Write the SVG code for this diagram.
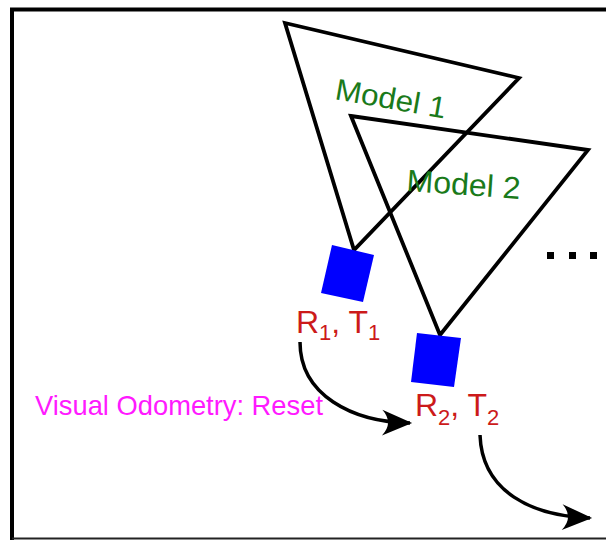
<svg xmlns="http://www.w3.org/2000/svg" width="606" height="540" viewBox="0 0 606 540">
<style>
.tri{fill:none;stroke:#000;stroke-width:3.8;stroke-linejoin:miter}
.cam{fill:#0000ff}
.model{font-family:"Liberation Sans",Arial,sans-serif;fill:#1a7a1a}
.rt{font-family:"Liberation Sans",Arial,sans-serif;fill:#cc1a1a;font-size:32px}
.sub{font-size:22px}
.vo{font-family:"Liberation Sans",Arial,sans-serif;fill:#ff1aff;font-size:28px}
.arr{fill:none;stroke:#000;stroke-width:3.5}
</style>
<defs>
<marker id="ah" markerUnits="userSpaceOnUse" markerWidth="40" markerHeight="30" viewBox="-28 -14 32 28" refX="0" refY="0" orient="auto">
<path d="M2,0 L-26,-12 Q-15,0 -26,12 Z" fill="#000"/>
</marker>
</defs>
<rect x="0" y="0" width="606" height="540" fill="#fff"/>
<g id="frame">
<path d="M12,540 L12,9.5 L606,9.5" fill="none" stroke="#000" stroke-width="4"/>
<line x1="12" y1="538.5" x2="606" y2="538.5" stroke="#222" stroke-width="2"/>
</g>
<g id="model1">
<polygon class="tri" points="285,23 519,78 354,250"/>
<text class="model" font-size="30" transform="translate(334,99) rotate(10)" textLength="112" lengthAdjust="spacingAndGlyphs">Model 1</text>
</g>
<g id="model2">
<polygon class="tri" points="351,116 588,150 440,335"/>
<text class="model" font-size="31" transform="translate(406,191) rotate(4)" textLength="114" lengthAdjust="spacingAndGlyphs">Model 2</text>
</g>
<g id="camera1">
<polygon class="cam" points="332,245 374,255 363,302 321,293"/>
<text class="rt" x="296" y="333">R<tspan class="sub" dy="7">1</tspan><tspan dy="-7">, T</tspan><tspan class="sub" dy="7">1</tspan></text>
</g>
<g id="camera2">
<polygon class="cam" points="417,333 461,338 454,387 411,382"/>
<text class="rt" x="415" y="416">R<tspan class="sub" dy="9">2</tspan><tspan dy="-9">, T</tspan><tspan class="sub" dy="9">2</tspan></text>
</g>
<g id="more">
<rect x="547" y="252" width="7" height="7" fill="#000"/>
<rect x="569" y="252" width="7" height="7" fill="#000"/>
<rect x="590" y="252" width="7" height="7" fill="#000"/>
</g>
<g id="label">
<text class="vo" x="35" y="415" textLength="288" lengthAdjust="spacingAndGlyphs">Visual Odometry: Reset</text>
</g>
<g id="connectors">
<path class="arr" d="M300,342 C300,395 352,422 410,423" marker-end="url(#ah)"/>
<path class="arr" d="M480,435 C482,492 532,516 590,518" marker-end="url(#ah)"/>
</g>
</svg>
